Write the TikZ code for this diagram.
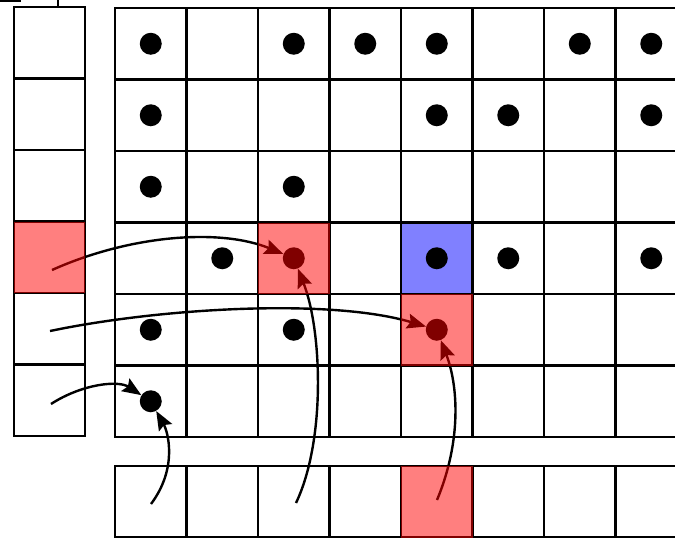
\documentclass[tikz,border=0pt]{standalone}
\usetikzlibrary{arrows.meta}
\begin{document}
\begin{tikzpicture}[x=1pt,y=-1pt,
  gridline/.style={line width=2.6pt,line cap=rect},
  dot/.style={circle,fill=black,minimum size=22pt,inner sep=0pt},
  conn/.style={line width=2.4pt,-{Stealth[length=19pt,width=15pt,inset=3pt]}},
  hot/.style={fill=red,opacity=0.5},
  cold/.style={fill=blue!50}]
\useasboundingbox (0,0) rectangle (675,538);
\clip (0,0) rectangle (675,538);
% blue cell
\fill[cold] (401,222.5) rectangle (472.5,294);
% clipped fragments top-left
\draw[gridline] (0,1) -- (20,1);
\draw[gridline] (58,0) -- (58,7);
% left column
\foreach \k in {0,...,6} \draw[gridline] (14,7+71.5*\k) -- (85,7+71.5*\k);
\draw[gridline] (14,7) -- (14,436);
\draw[gridline] (85,7) -- (85,436);
% main grid
\foreach \k in {0,...,6} \draw[gridline] (115,8+71.5*\k) -- (700,8+71.5*\k);
\foreach \k in {0,...,8} \draw[gridline] (115+71.5*\k,8) -- (115+71.5*\k,437);
% bottom row
\draw[gridline] (115,466) -- (700,466);
\draw[gridline] (115,537.5) -- (700,537.5);
\foreach \k in {0,...,8} \draw[gridline] (115+71.5*\k,466) -- (115+71.5*\k,537.5);
% dots
\foreach \r/\c in {0/0,0/2,0/3,0/4,0/6,0/7,1/0,1/4,1/5,1/7,2/0,2/2,3/1,3/2,3/4,3/5,3/7,4/0,4/2,4/4,5/0}
  \node[dot] (d\r\c) at (150.75+71.5*\c,43.75+71.5*\r) {};
% start points
\coordinate (s1) at (52,270);
\coordinate (s2) at (50,331);
\coordinate (s3) at (51,404);
\coordinate (b0) at (151,504);
\coordinate (b2) at (296,503);
\coordinate (b4) at (437,500);
% connectors
\draw[conn] (s1) .. controls (130,235) and (220,228) .. (d32);
\draw[conn] (s2) .. controls (160,308) and (330,298) .. (d44);
\draw[conn] (s3) .. controls (82,384) and (118,380) .. (d50);
\draw[conn] (b0) .. controls (178,468) and (168,432) .. (d50);
\draw[conn] (b2) .. controls (326,440) and (322,330) .. (d32);
\draw[conn] (b4) .. controls (462,440) and (458,385) .. (d44);
% red overlays
\fill[hot] (14,221.5) rectangle (85,293);
\fill[hot] (258,222.5) rectangle (329.5,294);
\fill[hot] (401,294) rectangle (472.5,365.5);
\fill[hot] (401,466) rectangle (472.5,537.5);
\end{tikzpicture}
\end{document}
